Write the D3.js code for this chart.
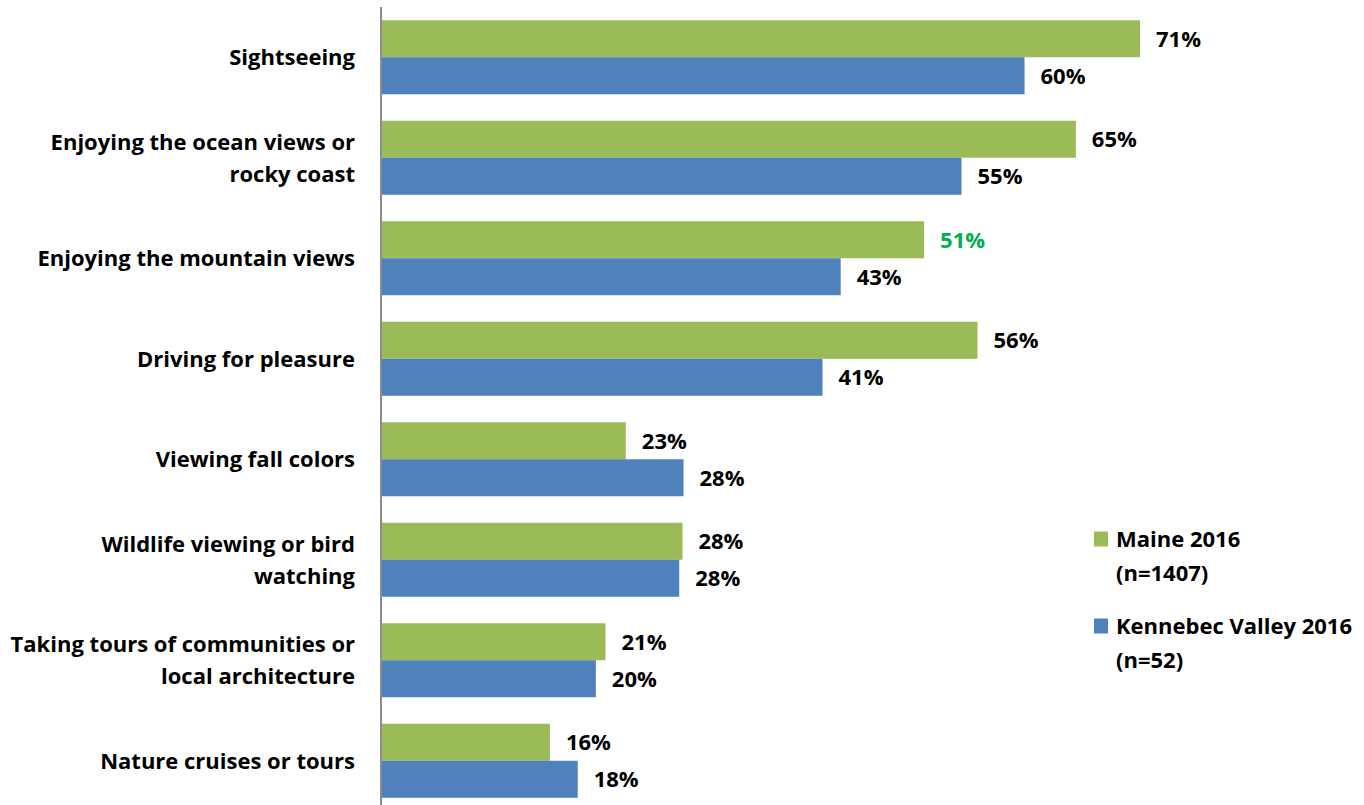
<!DOCTYPE html>
<html><head><meta charset="utf-8">
<script src="https://cdn.jsdelivr.net/npm/d3@7"></script>
<style>body{margin:0;background:#fff;}svg{display:block;font-family:"Open Sans",Lato,sans-serif;font-weight:bold;}</style>
</head><body><svg id="c" width="1364" height="805"></svg>
<script>
const categories = [
  ["Sightseeing"],
  ["Enjoying the ocean views or","rocky coast"],
  ["Enjoying the mountain views"],
  ["Driving for pleasure"],
  ["Viewing fall colors"],
  ["Wildlife viewing or bird","watching"],
  ["Taking tours of communities or","local architecture"],
  ["Nature cruises or tours"]
];
const maine2016 = [71, 65, 50.8, 55.8, 22.9, 28.2, 21.0, 15.8];
const kennebec2016 = [60.2, 54.3, 43.0, 41.3, 28.3, 27.9, 20.1, 18.4];
const maineLabels = ["71%","65%","51%","56%","23%","28%","21%","16%"];
const kennebecLabels = ["60%","55%","43%","41%","28%","28%","20%","18%"];
const seriesNames = [["Maine 2016","(n=1407)"],["Kennebec Valley 2016","(n=52)"]];
const colors = ["#9BBB59","#4F81BD"];

const FS = 22;
const svg = d3.select("#c");
const keys = categories.map((d,i)=>i);
const y0 = d3.scaleBand().domain(keys).range([7, 811]).padding(0);
const y1 = d3.scaleBand().domain([0,1]).range([0, y0.bandwidth()]).paddingOuter(0.358).paddingInner(0);
const x = d3.scaleLinear().domain([0, 71]).range([381, 1140]);

const series = [
  {vals: maine2016, labels: maineLabels},
  {vals: kennebec2016, labels: kennebecLabels}
];

const g = svg.append("g");
series.forEach((s, si) => {
  g.selectAll(".b"+si).data(keys).enter().append("rect")
    .attr("x", x(0))
    .attr("y", d => y0(d) + y1(si))
    .attr("width", d => x(s.vals[d]) - x(0))
    .attr("height", y1.bandwidth())
    .attr("fill", colors[si]);
  g.selectAll(".t"+si).data(keys).enter().append("text")
    .attr("x", d => x(s.vals[d]) + 16)
    .attr("y", d => y0(d) + y1(si) + y1.bandwidth()/2)
    .attr("dy", "0.36em")
    .attr("font-size", FS)
    .attr("fill", (d) => (si===0 && d===2) ? "#00B050" : "#000")
    .text(d => s.labels[d]);
});

// axis line
svg.append("line").attr("x1",381).attr("x2",381).attr("y1",7).attr("y2",805)
  .attr("stroke","#8c8c8c").attr("stroke-width",2);

// category labels
const lh = 32;
keys.forEach(i => {
  const lines = categories[i];
  const cy = y0(i) + y0.bandwidth()/2;
  const t = svg.append("text").attr("text-anchor","end").attr("font-size",FS).attr("fill","#000");
  lines.forEach((ln, j) => {
    t.append("tspan").attr("x", 355)
      .attr("y", cy + (j - (lines.length-1)/2)*lh)
      .attr("dy","0.36em").text(ln);
  });
});

// legend
const legY = [539, 626];
seriesNames.forEach((nm, i) => {
  svg.append("rect").attr("x",1094).attr("y",legY[i]-7.5).attr("width",14).attr("height",15).attr("fill",colors[i]);
  const t = svg.append("text").attr("font-size",FS).attr("fill","#000");
  nm.forEach((ln, j) => {
    t.append("tspan").attr("x",1116).attr("y", legY[i] + j*34).attr("dy","0.36em").text(ln);
  });
});
</script></body></html>
